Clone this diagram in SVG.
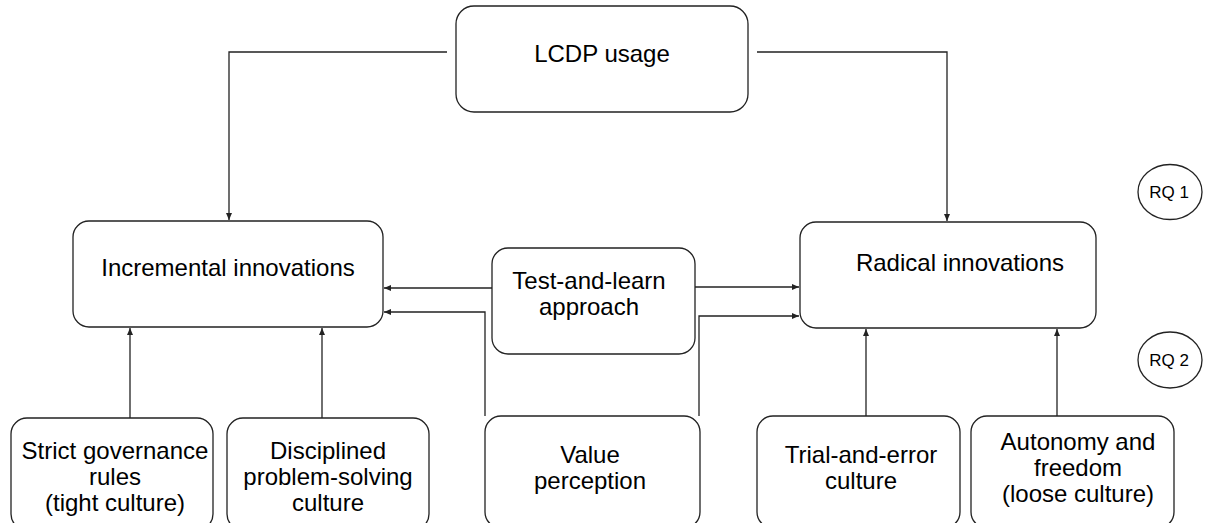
<svg xmlns="http://www.w3.org/2000/svg" width="1205" height="523" viewBox="0 0 1205 523">
<style>
.box{fill:#fff;stroke:#222;stroke-width:1.3}
.t{font-family:"Liberation Sans",Arial,sans-serif;font-size:24px;fill:#000;text-anchor:middle}
.s{font-family:"Liberation Sans",Arial,sans-serif;font-size:17px;fill:#000;text-anchor:middle}
.c{fill:none;stroke:#222;stroke-width:1.3}
</style>
<defs>
<marker id="a" markerWidth="8" markerHeight="8" refX="7" refY="4" orient="auto" markerUnits="userSpaceOnUse">
<path d="M0,1 L7,4 L0,7 Z" fill="#222"/>
</marker>
</defs>
<rect width="1205" height="523" fill="#fff"/>
<g id="connectors">
<path class="c" d="M447,52 H229 V220" marker-end="url(#a)"/>
<path class="c" d="M757,52 H947 V221" marker-end="url(#a)"/>
<path class="c" d="M492,288 H384" marker-end="url(#a)"/>
<path class="c" d="M695,287 H799" marker-end="url(#a)"/>
<path class="c" d="M485,416 V312 H384" marker-end="url(#a)"/>
<path class="c" d="M699,416 V316 H799" marker-end="url(#a)"/>
<path class="c" d="M130,418 V328" marker-end="url(#a)"/>
<path class="c" d="M322,418 V328" marker-end="url(#a)"/>
<path class="c" d="M866,416 V329" marker-end="url(#a)"/>
<path class="c" d="M1057,416 V329" marker-end="url(#a)"/>
</g>
<g id="lcdp"><rect class="box" x="456" y="6" width="292" height="106" rx="18"/><text class="t" x="602" y="62">LCDP usage</text></g>
<g id="incremental"><rect class="box" x="73" y="221" width="310" height="106" rx="16"/><text class="t" x="228" y="276">Incremental innovations</text></g>
<g id="radical"><rect class="box" x="800" y="222" width="296" height="106" rx="16"/><text class="t" x="960" y="271">Radical innovations</text></g>
<g id="testlearn"><rect class="box" x="492" y="248" width="203" height="106" rx="16"/><text class="t" x="589" y="289">Test-and-learn</text><text class="t" x="589" y="315">approach</text></g>
<g id="strict"><rect class="box" x="11" y="418" width="202" height="112" rx="16"/><text class="t" x="115" y="459">Strict governance</text><text class="t" x="115" y="485">rules</text><text class="t" x="115" y="511">(tight culture)</text></g>
<g id="disciplined"><rect class="box" x="227" y="418" width="202" height="112" rx="16"/><text class="t" x="328" y="459">Disciplined</text><text class="t" x="328" y="485">problem-solving</text><text class="t" x="328" y="511">culture</text></g>
<g id="value"><rect class="box" x="485" y="416" width="215" height="112" rx="16"/><text class="t" x="590" y="463">Value</text><text class="t" x="590" y="489">perception</text></g>
<g id="trial"><rect class="box" x="757" y="416" width="203" height="112" rx="16"/><text class="t" x="861" y="463">Trial-and-error</text><text class="t" x="861" y="489">culture</text></g>
<g id="autonomy"><rect class="box" x="971" y="416" width="203" height="112" rx="16"/><text class="t" x="1078" y="450">Autonomy and</text><text class="t" x="1078" y="476">freedom</text><text class="t" x="1078" y="502">(loose culture)</text></g>
<g id="rq1"><ellipse class="box" cx="1170" cy="192" rx="32" ry="27.5"/><text class="s" x="1169" y="198">RQ 1</text></g>
<g id="rq2"><ellipse class="box" cx="1170" cy="360" rx="32" ry="28"/><text class="s" x="1169" y="366">RQ 2</text></g>
</svg>
